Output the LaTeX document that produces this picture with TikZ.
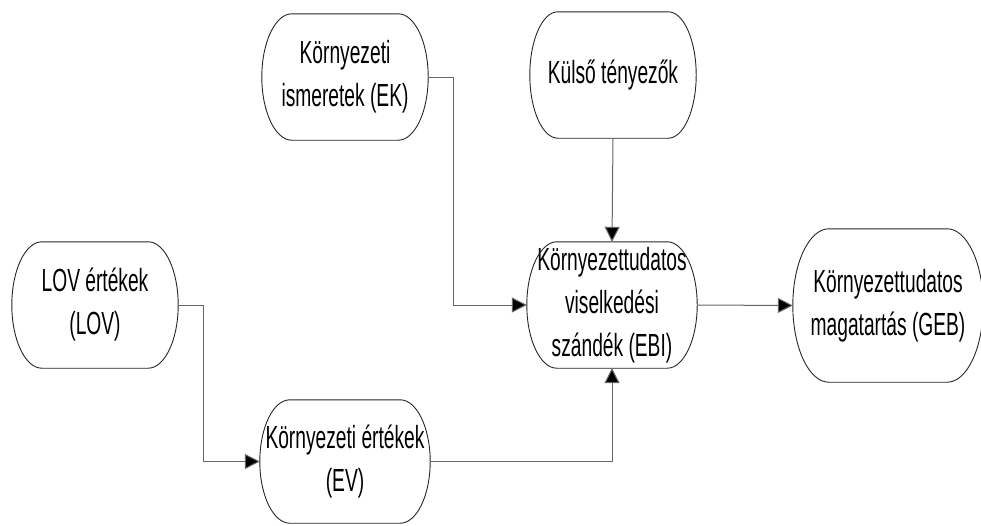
\documentclass[tikz,border=0pt]{standalone}
\usepackage{fontspec}
\setmainfont{Liberation Sans}[FakeStretch=0.6]
\usetikzlibrary{calc,arrows.meta}
\newcommand\blobline[2]{%
  \draw[outl] let \p1=(#1.north west), \p2=(#1.south east), \p3=(#1.west) in
    (\x1,\y3) .. controls (\x1,{\y3+0.55*(\y1-\y3)}) and ({\x1+0.45*#2pt},\y1) .. ({\x1+#2pt},\y1)
    -- ({\x2-#2pt},\y1) .. controls ({\x2-0.45*#2pt},\y1) and (\x2,{\y3+0.55*(\y1-\y3)}) .. (\x2,\y3)
    .. controls (\x2,{\y3-0.55*(\y1-\y3)}) and ({\x2-0.45*#2pt},\y2) .. ({\x2-#2pt},\y2)
    -- ({\x1+#2pt},\y2) .. controls ({\x1+0.45*#2pt},\y2) and (\x1,{\y3-0.55*(\y1-\y3)}) .. cycle;}
\begin{document}
\begin{tikzpicture}[x=1pt,y=-1pt,
  blob/.style={rectangle, align=center, inner sep=0pt, minimum width=166pt, minimum height=126pt,
    font=\fontsize{32}{43}\selectfont},
  outl/.style={draw=black!85, line width=0.9pt},
  conn/.style={draw=black!60, line width=1pt, -{Triangle[length=15pt,width=15pt,fill=black]}}]
\useasboundingbox (0,0) rectangle (981,525);
\node[blob] (EK) at (345,77) {Környezeti\\ismeretek (EK)};
\node[blob] (KT) at (613,75) {Külső tényezők};
\node[blob, minimum width=170pt] (EBI) at (612,305) {Környezettudatos\\viselkedési\\szándék (EBI)};
\node[blob] (LOV) at (95,305) {LOV értékek\\(LOV)};
\node[blob, minimum width=170pt, minimum height=123pt] (EV) at (345,461.5) {Környezeti értékek\\(EV)};
\node[blob, minimum width=190pt, minimum height=153pt] (GEB) at (888,305.5) {Környezettudatos\\magatartás (GEB)};
\blobline{EK}{30}
\blobline{KT}{28}
\blobline{EBI}{30}
\blobline{LOV}{30}
\blobline{EV}{30}
\blobline{GEB}{36}
\draw[conn] (EK.east) -- ++(25,0) |- (EBI.west);
\draw[conn] (KT.south) -- (EBI.north);
\draw[conn] (EBI.east) -- (GEB.west);
\draw[conn] (LOV.east) -- ++(25,0) |- (EV.west);
\draw[conn] (EV.east) -| (EBI.south);
\end{tikzpicture}
\end{document}
